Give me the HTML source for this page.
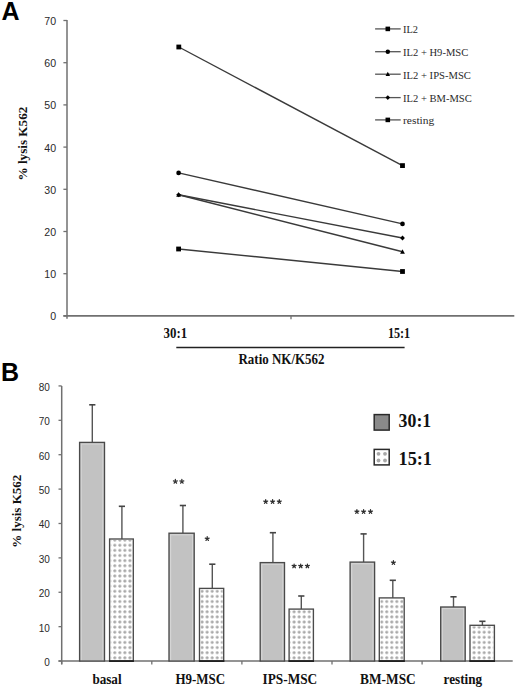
<!DOCTYPE html><html><head><meta charset="utf-8"><style>html,body{margin:0;padding:0;background:#fff;}svg{display:block;}</style></head><body>
<svg width="520" height="691" viewBox="0 0 520 691">
<defs><pattern id="dots1" x="112.27" y="655.24" width="5.05" height="5.115" patternUnits="userSpaceOnUse"><circle cx="2.52" cy="2.56" r="1.55" fill="#a9a9a9"/></pattern><pattern id="dots3" x="199.57" y="655.24" width="5.05" height="5.115" patternUnits="userSpaceOnUse"><circle cx="2.52" cy="2.56" r="1.55" fill="#a9a9a9"/></pattern><pattern id="dots5" x="291.58" y="655.24" width="5.05" height="5.115" patternUnits="userSpaceOnUse"><circle cx="2.52" cy="2.56" r="1.55" fill="#a9a9a9"/></pattern><pattern id="dots7" x="379.18" y="655.24" width="5.05" height="5.115" patternUnits="userSpaceOnUse"><circle cx="2.52" cy="2.56" r="1.55" fill="#a9a9a9"/></pattern><pattern id="dots9" x="471.58" y="655.24" width="5.05" height="5.115" patternUnits="userSpaceOnUse"><circle cx="2.52" cy="2.56" r="1.55" fill="#a9a9a9"/></pattern></defs>
<text x="1.6" y="19.9" font-family='"Liberation Sans", sans-serif' font-weight="bold" font-size="25" fill="#000">A</text>
<line x1="67" y1="20" x2="67" y2="318.7" stroke="#707070" stroke-width="1.5"/>
<line x1="63.4" y1="315.9" x2="67" y2="315.9" stroke="#707070" stroke-width="1.3"/>
<text x="56.1" y="320.4" text-anchor="end" font-family='"Liberation Sans", sans-serif' font-size="10.6" fill="#2a2a2a">0</text>
<line x1="63.4" y1="273.7" x2="67" y2="273.7" stroke="#707070" stroke-width="1.3"/>
<text x="56.1" y="278.2" text-anchor="end" font-family='"Liberation Sans", sans-serif' font-size="10.6" fill="#2a2a2a">10</text>
<line x1="63.4" y1="231.5" x2="67" y2="231.5" stroke="#707070" stroke-width="1.3"/>
<text x="56.1" y="236" text-anchor="end" font-family='"Liberation Sans", sans-serif' font-size="10.6" fill="#2a2a2a">20</text>
<line x1="63.4" y1="189.3" x2="67" y2="189.3" stroke="#707070" stroke-width="1.3"/>
<text x="56.1" y="193.8" text-anchor="end" font-family='"Liberation Sans", sans-serif' font-size="10.6" fill="#2a2a2a">30</text>
<line x1="63.4" y1="147.1" x2="67" y2="147.1" stroke="#707070" stroke-width="1.3"/>
<text x="56.1" y="151.6" text-anchor="end" font-family='"Liberation Sans", sans-serif' font-size="10.6" fill="#2a2a2a">40</text>
<line x1="63.4" y1="104.9" x2="67" y2="104.9" stroke="#707070" stroke-width="1.3"/>
<text x="56.1" y="109.4" text-anchor="end" font-family='"Liberation Sans", sans-serif' font-size="10.6" fill="#2a2a2a">50</text>
<line x1="63.4" y1="62.7" x2="67" y2="62.7" stroke="#707070" stroke-width="1.3"/>
<text x="56.1" y="67.2" text-anchor="end" font-family='"Liberation Sans", sans-serif' font-size="10.6" fill="#2a2a2a">60</text>
<line x1="63.4" y1="20.5" x2="67" y2="20.5" stroke="#707070" stroke-width="1.3"/>
<text x="56.1" y="25" text-anchor="end" font-family='"Liberation Sans", sans-serif' font-size="10.6" fill="#2a2a2a">70</text>
<line x1="63.4" y1="315.9" x2="514.3" y2="315.9" stroke="#707070" stroke-width="1.6"/>
<line x1="291" y1="315.9" x2="291" y2="319.2" stroke="#707070" stroke-width="1.3"/>
<line x1="178.8" y1="47.0" x2="402.5" y2="165.6" stroke="#3a3a3a" stroke-width="1.4"/>
<line x1="178.6" y1="172.9" x2="402.5" y2="223.9" stroke="#3a3a3a" stroke-width="1.4"/>
<line x1="178.6" y1="194.8" x2="402.5" y2="251.8" stroke="#3a3a3a" stroke-width="1.4"/>
<line x1="178.6" y1="194.8" x2="402.5" y2="238.0" stroke="#3a3a3a" stroke-width="1.4"/>
<line x1="178.6" y1="249.0" x2="402.5" y2="271.5" stroke="#3a3a3a" stroke-width="1.4"/>
<rect x="176.4" y="44.6" width="4.8" height="4.8" fill="#000"/>
<rect x="400.1" y="163.2" width="4.8" height="4.8" fill="#000"/>
<circle cx="178.6" cy="172.9" r="2.35" fill="#000"/>
<circle cx="402.5" cy="223.9" r="2.35" fill="#000"/>
<polygon points="178.6,192.3 180.97,196.8 176.22,196.8" fill="#000"/>
<polygon points="402.5,249.3 404.88,253.8 400.12,253.8" fill="#000"/>
<polygon points="178.6,192.4 181,194.8 178.6,197.2 176.2,194.8" fill="#000"/>
<polygon points="402.5,235.6 404.9,238 402.5,240.4 400.1,238" fill="#000"/>
<rect x="176.2" y="246.6" width="4.8" height="4.8" fill="#000"/>
<rect x="400.1" y="269.1" width="4.8" height="4.8" fill="#000"/>
<line x1="375.1" y1="28.9" x2="400.7" y2="28.9" stroke="#555" stroke-width="1.3"/>
<rect x="385.52" y="26.62" width="4.56" height="4.56" fill="#000"/>
<text x="403" y="33.4" font-family='"Liberation Serif", serif' font-size="11" textLength="15.0" lengthAdjust="spacingAndGlyphs" fill="#2a2a2a">IL2</text>
<line x1="375.1" y1="51.7" x2="400.7" y2="51.7" stroke="#555" stroke-width="1.3"/>
<circle cx="387.8" cy="51.7" r="2.23" fill="#000"/>
<text x="403" y="56.2" font-family='"Liberation Serif", serif' font-size="11" textLength="65.2" lengthAdjust="spacingAndGlyphs" fill="#2a2a2a">IL2 + H9-MSC</text>
<line x1="375.1" y1="74.2" x2="400.7" y2="74.2" stroke="#555" stroke-width="1.3"/>
<polygon points="387.8,71.83 390.06,76.1 385.54,76.1" fill="#000"/>
<text x="403" y="78.7" font-family='"Liberation Serif", serif' font-size="11" textLength="67.9" lengthAdjust="spacingAndGlyphs" fill="#2a2a2a">IL2 + IPS-MSC</text>
<line x1="375.1" y1="97.6" x2="400.7" y2="97.6" stroke="#555" stroke-width="1.3"/>
<polygon points="387.8,95.32 390.08,97.6 387.8,99.88 385.52,97.6" fill="#000"/>
<text x="403" y="102.1" font-family='"Liberation Serif", serif' font-size="11" textLength="68.8" lengthAdjust="spacingAndGlyphs" fill="#2a2a2a">IL2 + BM-MSC</text>
<line x1="375.1" y1="119.9" x2="400.7" y2="119.9" stroke="#555" stroke-width="1.3"/>
<rect x="385.52" y="117.62" width="4.56" height="4.56" fill="#000"/>
<text x="403" y="124.4" font-family='"Liberation Serif", serif' font-size="11" textLength="31.3" lengthAdjust="spacingAndGlyphs" fill="#2a2a2a">resting</text>
<text x="163.6" y="337.8" font-family='"Liberation Serif", serif' font-weight="bold" font-size="14" textLength="23.6" lengthAdjust="spacingAndGlyphs" fill="#111">30:1</text>
<text x="387.9" y="337.9" font-family='"Liberation Serif", serif' font-weight="bold" font-size="14" textLength="22.3" lengthAdjust="spacingAndGlyphs" fill="#111">15:1</text>
<line x1="176.3" y1="347.4" x2="404.6" y2="347.4" stroke="#222" stroke-width="1.5"/>
<text x="238.5" y="364.4" font-family='"Liberation Serif", serif' font-weight="bold" font-size="14" textLength="86" lengthAdjust="spacingAndGlyphs" fill="#111">Ratio NK/K562</text>
<text transform="translate(26.8,143.6) rotate(-90)" x="0" y="0" text-anchor="middle" font-family='"Liberation Serif", serif' font-weight="bold" font-size="13.2" fill="#111">% lysis K562</text>
<text x="1" y="380.5" font-family='"Liberation Sans", sans-serif' font-weight="bold" font-size="25" fill="#000">B</text>
<line x1="61.7" y1="386" x2="61.7" y2="664.2" stroke="#707070" stroke-width="1.5"/>
<line x1="58.5" y1="661.05" x2="61.7" y2="661.05" stroke="#707070" stroke-width="1.3"/>
<text x="49.8" y="666.05" text-anchor="end" font-family='"Liberation Sans", sans-serif' font-size="10" fill="#2a2a2a">0</text>
<line x1="58.5" y1="626.66" x2="61.7" y2="626.66" stroke="#707070" stroke-width="1.3"/>
<text x="49.8" y="631.66" text-anchor="end" font-family='"Liberation Sans", sans-serif' font-size="10" fill="#2a2a2a">10</text>
<line x1="58.5" y1="592.27" x2="61.7" y2="592.27" stroke="#707070" stroke-width="1.3"/>
<text x="49.8" y="597.27" text-anchor="end" font-family='"Liberation Sans", sans-serif' font-size="10" fill="#2a2a2a">20</text>
<line x1="58.5" y1="557.88" x2="61.7" y2="557.88" stroke="#707070" stroke-width="1.3"/>
<text x="49.8" y="562.88" text-anchor="end" font-family='"Liberation Sans", sans-serif' font-size="10" fill="#2a2a2a">30</text>
<line x1="58.5" y1="523.49" x2="61.7" y2="523.49" stroke="#707070" stroke-width="1.3"/>
<text x="49.8" y="528.49" text-anchor="end" font-family='"Liberation Sans", sans-serif' font-size="10" fill="#2a2a2a">40</text>
<line x1="58.5" y1="489.1" x2="61.7" y2="489.1" stroke="#707070" stroke-width="1.3"/>
<text x="49.8" y="494.1" text-anchor="end" font-family='"Liberation Sans", sans-serif' font-size="10" fill="#2a2a2a">50</text>
<line x1="58.5" y1="454.71" x2="61.7" y2="454.71" stroke="#707070" stroke-width="1.3"/>
<text x="49.8" y="459.71" text-anchor="end" font-family='"Liberation Sans", sans-serif' font-size="10" fill="#2a2a2a">60</text>
<line x1="58.5" y1="420.32" x2="61.7" y2="420.32" stroke="#707070" stroke-width="1.3"/>
<text x="49.8" y="425.32" text-anchor="end" font-family='"Liberation Sans", sans-serif' font-size="10" fill="#2a2a2a">70</text>
<line x1="58.5" y1="385.93" x2="61.7" y2="385.93" stroke="#707070" stroke-width="1.3"/>
<text x="49.8" y="390.93" text-anchor="end" font-family='"Liberation Sans", sans-serif' font-size="10" fill="#2a2a2a">80</text>
<line x1="58.5" y1="661.05" x2="512.7" y2="661.05" stroke="#707070" stroke-width="1.5"/>
<line x1="61.7" y1="661.05" x2="61.7" y2="664.5" stroke="#707070" stroke-width="1.3"/>
<line x1="151.8" y1="661.05" x2="151.8" y2="664.5" stroke="#707070" stroke-width="1.3"/>
<line x1="241.9" y1="661.05" x2="241.9" y2="664.5" stroke="#707070" stroke-width="1.3"/>
<line x1="332" y1="661.05" x2="332" y2="664.5" stroke="#707070" stroke-width="1.3"/>
<line x1="422.1" y1="661.05" x2="422.1" y2="664.5" stroke="#707070" stroke-width="1.3"/>
<line x1="92.3" y1="404.8" x2="92.3" y2="442.4" stroke="#555" stroke-width="1.4"/>
<line x1="89.2" y1="404.8" x2="95.4" y2="404.8" stroke="#444" stroke-width="1.6"/>
<rect x="79.6" y="442.4" width="24.9" height="218.65" fill="#c2c2c2"/>
<rect x="81.2" y="444" width="21.7" height="217.05" fill="none" stroke="#d6d6d6" stroke-width="1.1"/>
<rect x="79.6" y="442.4" width="24.9" height="218.65" fill="none" stroke="#4a4a4a" stroke-width="1.35"/>
<line x1="121.9" y1="506.3" x2="121.9" y2="539.0" stroke="#555" stroke-width="1.4"/>
<line x1="118.8" y1="506.3" x2="125" y2="506.3" stroke="#444" stroke-width="1.6"/>
<rect x="109.6" y="539.0" width="23.7" height="122.05" fill="#fff"/>
<rect x="110.7" y="540.1" width="21.5" height="120.95" fill="url(#dots1)"/>
<rect x="109.6" y="539.0" width="23.7" height="122.05" fill="none" stroke="#4a4a4a" stroke-width="1.35"/>
<line x1="109.0" y1="661.05" x2="133.9" y2="661.05" stroke="#1e1e1e" stroke-width="1.8"/>
<line x1="182.9" y1="505.5" x2="182.9" y2="533.2" stroke="#555" stroke-width="1.4"/>
<line x1="179.8" y1="505.5" x2="186" y2="505.5" stroke="#444" stroke-width="1.6"/>
<rect x="169.0" y="533.2" width="25.2" height="127.85" fill="#c2c2c2"/>
<rect x="170.6" y="534.8" width="22" height="126.25" fill="none" stroke="#d6d6d6" stroke-width="1.1"/>
<rect x="169.0" y="533.2" width="25.2" height="127.85" fill="none" stroke="#4a4a4a" stroke-width="1.35"/>
<line x1="212.3" y1="564.2" x2="212.3" y2="588.4" stroke="#555" stroke-width="1.4"/>
<line x1="209.2" y1="564.2" x2="215.4" y2="564.2" stroke="#444" stroke-width="1.6"/>
<rect x="199.5" y="588.4" width="24.2" height="72.65" fill="#fff"/>
<rect x="200.6" y="589.5" width="22" height="71.55" fill="url(#dots3)"/>
<rect x="199.5" y="588.4" width="24.2" height="72.65" fill="none" stroke="#4a4a4a" stroke-width="1.35"/>
<line x1="198.9" y1="661.05" x2="224.29999999999998" y2="661.05" stroke="#1e1e1e" stroke-width="1.8"/>
<line x1="272.9" y1="532.7" x2="272.9" y2="562.6" stroke="#555" stroke-width="1.4"/>
<line x1="269.8" y1="532.7" x2="276" y2="532.7" stroke="#444" stroke-width="1.6"/>
<rect x="260.2" y="562.6" width="24.3" height="98.45" fill="#c2c2c2"/>
<rect x="261.8" y="564.2" width="21.1" height="96.85" fill="none" stroke="#d6d6d6" stroke-width="1.1"/>
<rect x="260.2" y="562.6" width="24.3" height="98.45" fill="none" stroke="#4a4a4a" stroke-width="1.35"/>
<line x1="301.3" y1="596.0" x2="301.3" y2="609.1" stroke="#555" stroke-width="1.4"/>
<line x1="298.2" y1="596.0" x2="304.4" y2="596.0" stroke="#444" stroke-width="1.6"/>
<rect x="289.1" y="609.1" width="24.3" height="51.95" fill="#fff"/>
<rect x="290.2" y="610.2" width="22.1" height="50.85" fill="url(#dots5)"/>
<rect x="289.1" y="609.1" width="24.3" height="51.95" fill="none" stroke="#4a4a4a" stroke-width="1.35"/>
<line x1="288.5" y1="661.05" x2="314.0" y2="661.05" stroke="#1e1e1e" stroke-width="1.8"/>
<line x1="363.6" y1="533.9" x2="363.6" y2="562.1" stroke="#555" stroke-width="1.4"/>
<line x1="360.5" y1="533.9" x2="366.7" y2="533.9" stroke="#444" stroke-width="1.6"/>
<rect x="350.1" y="562.1" width="24.5" height="98.95" fill="#c2c2c2"/>
<rect x="351.7" y="563.7" width="21.3" height="97.35" fill="none" stroke="#d6d6d6" stroke-width="1.1"/>
<rect x="350.1" y="562.1" width="24.5" height="98.95" fill="none" stroke="#4a4a4a" stroke-width="1.35"/>
<line x1="392.8" y1="580.3" x2="392.8" y2="597.9" stroke="#555" stroke-width="1.4"/>
<line x1="389.7" y1="580.3" x2="395.9" y2="580.3" stroke="#444" stroke-width="1.6"/>
<rect x="379.3" y="597.9" width="24.9" height="63.15" fill="#fff"/>
<rect x="380.4" y="599" width="22.7" height="62.05" fill="url(#dots7)"/>
<rect x="379.3" y="597.9" width="24.9" height="63.15" fill="none" stroke="#4a4a4a" stroke-width="1.35"/>
<line x1="378.7" y1="661.05" x2="404.8" y2="661.05" stroke="#1e1e1e" stroke-width="1.8"/>
<line x1="453.5" y1="596.8" x2="453.5" y2="607.0" stroke="#555" stroke-width="1.4"/>
<line x1="450.4" y1="596.8" x2="456.6" y2="596.8" stroke="#444" stroke-width="1.6"/>
<rect x="440.7" y="607.0" width="24.5" height="54.05" fill="#c2c2c2"/>
<rect x="442.3" y="608.6" width="21.3" height="52.45" fill="none" stroke="#d6d6d6" stroke-width="1.1"/>
<rect x="440.7" y="607.0" width="24.5" height="54.05" fill="none" stroke="#4a4a4a" stroke-width="1.35"/>
<line x1="482.4" y1="621.3" x2="482.4" y2="625.3" stroke="#555" stroke-width="1.4"/>
<line x1="479.3" y1="621.3" x2="485.5" y2="621.3" stroke="#444" stroke-width="1.6"/>
<rect x="470.0" y="625.3" width="24.4" height="35.75" fill="#fff"/>
<rect x="471.1" y="626.4" width="22.2" height="34.65" fill="url(#dots9)"/>
<rect x="470.0" y="625.3" width="24.4" height="35.75" fill="none" stroke="#4a4a4a" stroke-width="1.35"/>
<line x1="469.4" y1="661.05" x2="495.0" y2="661.05" stroke="#1e1e1e" stroke-width="1.8"/>
<path d="M175.35 481.53L175.35 479.48M175.35 481.53L177.3 480.9M175.35 481.53L176.55 483.19M175.35 481.53L174.15 483.19M175.35 481.53L173.4 480.9" stroke="#2e2e2e" stroke-width="1.25" stroke-linecap="round" fill="none"/>
<path d="M181.85 481.53L181.85 479.48M181.85 481.53L183.8 480.9M181.85 481.53L183.05 483.19M181.85 481.53L180.65 483.19M181.85 481.53L179.9 480.9" stroke="#2e2e2e" stroke-width="1.25" stroke-linecap="round" fill="none"/>
<path d="M207.2 538.78L207.2 536.73M207.2 538.78L209.15 538.15M207.2 538.78L208.4 540.44M207.2 538.78L206 540.44M207.2 538.78L205.25 538.15" stroke="#2e2e2e" stroke-width="1.25" stroke-linecap="round" fill="none"/>
<path d="M265.7 501.68L265.7 499.63M265.7 501.68L267.65 501.05M265.7 501.68L266.9 503.34M265.7 501.68L264.5 503.34M265.7 501.68L263.75 501.05" stroke="#2e2e2e" stroke-width="1.25" stroke-linecap="round" fill="none"/>
<path d="M272.6 501.68L272.6 499.63M272.6 501.68L274.55 501.05M272.6 501.68L273.8 503.34M272.6 501.68L271.4 503.34M272.6 501.68L270.65 501.05" stroke="#2e2e2e" stroke-width="1.25" stroke-linecap="round" fill="none"/>
<path d="M279.3 501.68L279.3 499.63M279.3 501.68L281.25 501.05M279.3 501.68L280.5 503.34M279.3 501.68L278.1 503.34M279.3 501.68L277.35 501.05" stroke="#2e2e2e" stroke-width="1.25" stroke-linecap="round" fill="none"/>
<path d="M294.1 566.08L294.1 564.03M294.1 566.08L296.05 565.45M294.1 566.08L295.3 567.74M294.1 566.08L292.9 567.74M294.1 566.08L292.15 565.45" stroke="#2e2e2e" stroke-width="1.25" stroke-linecap="round" fill="none"/>
<path d="M300.7 566.08L300.7 564.03M300.7 566.08L302.65 565.45M300.7 566.08L301.9 567.74M300.7 566.08L299.5 567.74M300.7 566.08L298.75 565.45" stroke="#2e2e2e" stroke-width="1.25" stroke-linecap="round" fill="none"/>
<path d="M307.4 566.08L307.4 564.03M307.4 566.08L309.35 565.45M307.4 566.08L308.6 567.74M307.4 566.08L306.2 567.74M307.4 566.08L305.45 565.45" stroke="#2e2e2e" stroke-width="1.25" stroke-linecap="round" fill="none"/>
<path d="M356.9 511.68L356.9 509.63M356.9 511.68L358.85 511.05M356.9 511.68L358.1 513.34M356.9 511.68L355.7 513.34M356.9 511.68L354.95 511.05" stroke="#2e2e2e" stroke-width="1.25" stroke-linecap="round" fill="none"/>
<path d="M363.6 511.68L363.6 509.63M363.6 511.68L365.55 511.05M363.6 511.68L364.8 513.34M363.6 511.68L362.4 513.34M363.6 511.68L361.65 511.05" stroke="#2e2e2e" stroke-width="1.25" stroke-linecap="round" fill="none"/>
<path d="M370.5 511.68L370.5 509.63M370.5 511.68L372.45 511.05M370.5 511.68L371.7 513.34M370.5 511.68L369.3 513.34M370.5 511.68L368.55 511.05" stroke="#2e2e2e" stroke-width="1.25" stroke-linecap="round" fill="none"/>
<path d="M393.4 562.68L393.4 560.63M393.4 562.68L395.35 562.05M393.4 562.68L394.6 564.34M393.4 562.68L392.2 564.34M393.4 562.68L391.45 562.05" stroke="#2e2e2e" stroke-width="1.25" stroke-linecap="round" fill="none"/>
<rect x="374.2" y="414.6" width="15" height="15.5" fill="#8a8a8a" stroke="#2a2a2a" stroke-width="1.5"/>
<text x="398.6" y="427.4" font-family='"Liberation Serif", serif' font-weight="bold" font-size="18" textLength="32.6" lengthAdjust="spacingAndGlyphs" fill="#111">30:1</text>
<rect x="374.2" y="449.4" width="15" height="15.5" fill="#fff" stroke="#2a2a2a" stroke-width="1.5"/>
<circle cx="378.5" cy="453.8" r="1.9" fill="#a8a8a8"/>
<circle cx="385" cy="453.8" r="1.9" fill="#a8a8a8"/>
<circle cx="378.5" cy="460.5" r="1.9" fill="#a8a8a8"/>
<circle cx="385" cy="460.5" r="1.9" fill="#a8a8a8"/>
<text x="398.5" y="465.1" font-family='"Liberation Serif", serif' font-weight="bold" font-size="18" textLength="33.5" lengthAdjust="spacingAndGlyphs" fill="#111">15:1</text>
<text x="92.4" y="683.8" font-family='"Liberation Serif", serif' font-weight="bold" font-size="14" textLength="29.2" lengthAdjust="spacingAndGlyphs" fill="#111">basal</text>
<text x="175.4" y="683.8" font-family='"Liberation Serif", serif' font-weight="bold" font-size="14" textLength="49.8" lengthAdjust="spacingAndGlyphs" fill="#111">H9-MSC</text>
<text x="262.5" y="683.8" font-family='"Liberation Serif", serif' font-weight="bold" font-size="14" textLength="54.7" lengthAdjust="spacingAndGlyphs" fill="#111">IPS-MSC</text>
<text x="360.1" y="683.8" font-family='"Liberation Serif", serif' font-weight="bold" font-size="14" textLength="55.6" lengthAdjust="spacingAndGlyphs" fill="#111">BM-MSC</text>
<text x="443.6" y="683.8" font-family='"Liberation Serif", serif' font-weight="bold" font-size="14" textLength="38.55" lengthAdjust="spacingAndGlyphs" fill="#111">resting</text>
<text transform="translate(20.6,511.2) rotate(-90)" x="0" y="0" text-anchor="middle" font-family='"Liberation Serif", serif' font-weight="bold" font-size="13" fill="#111">% lysis K562</text>
</svg></body></html>
